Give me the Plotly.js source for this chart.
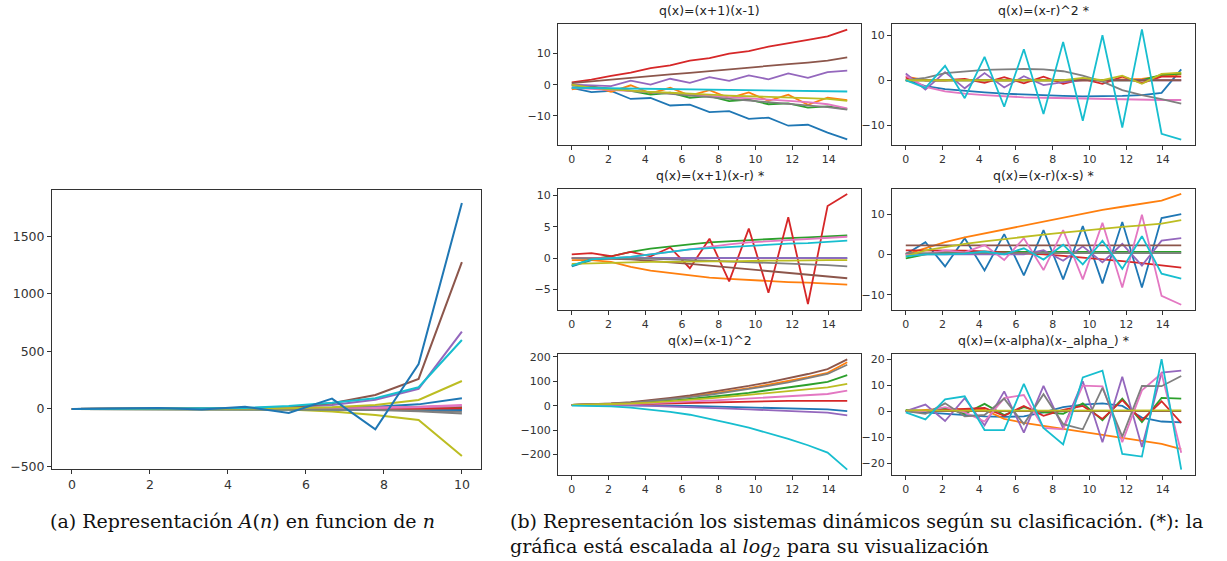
<!DOCTYPE html>
<html>
<head>
<meta charset="utf-8">
<script src="https://cdn.plot.ly/plotly-3.0.1.min.js"></script>
<style>html,body{margin:0;padding:0;background:#fff;}#chart{width:1227px;height:561px;}</style>
</head>
<body>
<div id="chart"></div>
<script>
// ---------- DATA ----------
const palette = ['#1f77b4','#ff7f0e','#2ca02c','#d62728','#9467bd','#8c564b','#e377c2','#7f7f7f','#bcbd22','#17becf'];

// (a) A(n)
const nX = [0,1.11,2.22,3.33,4.44,5.56,6.67,7.78,8.89,10];
const aSeries = [
  [0,0,1,1,3,5,10,20,40,93],
  [0,0,0,1,1,2,3,5,8,15],
  [0,0,0,0,1,1,2,4,6,10],
  [0,0,1,1,2,3,5,8,12,20],
  [0,0,0,0,0,0,-1,-2,-3,-5],
  [0,0,1,1,2,3,5,8,14,25],
  [0,0,1,1,2,4,7,12,20,35],
  [0,0,0,0,-1,-2,-3,-6,-12,-25],
  [0,0,0,0,0,-5,-23,-52,-96,-409],
  [0,0,0,1,1,2,3,5,8,12],
  [0,0,0,0,0,0,-1,-2,-4,-8],
  [0,0,0,0,1,1,2,3,5,8],
  [0,0,0,1,1,2,4,6,10,18],
  [0,0,0,0,0,1,1,2,4,6],
  [0,1,2,3,6,14,35,80,175,672],
  [0,1,2,3,6,14,50,122,261,1276],
  [0,0,0,1,2,3,5,9,15,28],
  [0,0,0,0,-1,-3,-5,-10,-20,-40],
  [0,0,1,1,3,6,15,35,78,243],
  [0,1,2,3,8,26,55,93,189,600],
  [0,5,8,-5,20,-35,90,-177,391,1790]
];

// (b) dynamical systems
const tX = [0,1.07,2.14,3.21,4.29,5.36,6.43,7.5,8.57,9.64,10.71,11.79,12.86,13.93,15];
const titles = ['q(x)=(x+1)(x-1)','q(x)=(x-r)^2 *','q(x)=(x+1)(x-r) *','q(x)=(x-r)(x-s) *','q(x)=(x-1)^2','q(x)=(x-alpha)(x-_alpha_) *'];

const s1 = [
  [-1,-2.4,-2,-4.6,-4.3,-6.7,-6.4,-8.8,-8.5,-11,-10.6,-13.2,-12.9,-15.4,-17.6],
  [-1.5,-0.5,-2.3,-0.2,-2.8,-1,-3.5,-1.8,-4.3,-2.5,-5.2,-3.2,-6.5,-4.2,-5],
  [0,-0.7,-1.3,-2,-3.2,-2.6,-4.2,-3.7,-5.3,-4.8,-6.3,-6,-7.4,-7,-7.9],
  [0.7,1.6,2.8,3.9,5.3,6.2,7.7,8.5,10,10.8,12.2,13.2,14.4,15.5,17.7],
  [0,-0.3,-0.5,1.3,0,1.9,0.6,2.4,1.2,3,1.7,3.6,2.2,4,4.5],
  [0.5,1.1,1.6,2.2,2.7,3.3,3.8,4.4,4.9,5.5,6,6.6,7.1,7.7,8.8],
  [-1,-1.3,-1.7,-2,-2.4,-2.8,-3.2,-3.6,-4,-4.4,-4.8,-5.2,-5.6,-6.3,-7.6],
  [-0.3,-0.8,-1.4,-2,-2.5,-3,-3.5,-4,-4.6,-5.1,-5.6,-6.1,-6.6,-7.2,-8],
  [0,-1,-1.5,-2,-2.3,-2.6,-3,-3.2,-3.5,-3.7,-4,-4.2,-4.5,-4.6,-5.2],
  [-1,-1.1,-1.2,-1.3,-1.4,-1.5,-1.6,-1.7,-1.8,-1.9,-2,-2,-2.1,-2.2,-2.2]
];
const s2 = [
  [0,-1.3,-2,-2.4,-2.7,-3,-3.2,-3.4,-3.5,-3.6,-3.6,-3.5,-3.3,-2.8,2.4],
  [0.8,0,0,0.1,0,0,0,0,0,0,0,0.2,0.3,0.9,1.3],
  [0,0,0,0,0,0,0,0,0,0.2,0,0,0,1.2,1.5],
  [0.5,0,0,0.3,-0.6,0.7,-0.7,0.8,-0.8,0.3,-0.8,0.8,-0.6,0.8,0.8],
  [1.5,-2.1,1.8,-1.8,1.6,-1.6,0.9,-1.1,-0.4,0,0,0,0,0,0],
  [0,0,0,0,0,0,0,0,0,0,0,0,0,0,0],
  [1,-1.5,-2.5,-3,-3.3,-3.6,-3.8,-3.9,-4,-4.1,-4.2,-4.3,-4.3,-4.4,-4.4],
  [0,0.5,1.6,2,2.3,2.4,2.5,2.4,2,1,-0.3,-2.2,-3.3,-4.2,-5.2],
  [0,0,0,0,0,0,0,0,0,0.5,0,1,-0.8,1.4,1.7],
  [0,-1.7,3.2,-4,5.2,-5.9,6.9,-7.5,8.5,-9,10,-10.5,11.3,-11.9,-13.2]
];
const s3 = [
  [-1.3,-0.3,0,0,0,0,0,0,0,0,0,0,0,0,0],
  [-0.3,-0.3,-0.6,-1.4,-2,-2.4,-2.8,-3.1,-3.3,-3.5,-3.7,-3.8,-3.9,-4.1,-4.2],
  [-1.2,-0.2,0.3,1,1.5,1.9,2.2,2.5,2.7,2.9,3,3.2,3.3,3.4,3.6],
  [0.6,0.8,0.3,1,0.3,1.7,-1.6,3.1,-3.7,4.7,-5.5,6.5,-7.3,8.3,10.2],
  [0,0,0,0,0,0,0,0,0,0,0,0,0,0,0],
  [0,0,-0.1,-0.2,-0.4,-0.6,-0.9,-1.2,-1.5,-1.8,-2.1,-2.4,-2.7,-2.9,-3.2],
  [0,0,0,0.2,0.6,1.1,1.5,1.9,2.2,2.5,2.7,2.9,3.1,3.2,3.4],
  [0,0,0,0,-0.1,-0.2,-0.3,-0.4,-0.5,-0.6,-0.8,-0.9,-1,-1.1,-1.3],
  [-0.9,-0.8,-0.7,-0.7,-0.6,-0.6,-0.5,-0.5,-0.5,-0.4,-0.4,-0.4,-0.3,-0.3,-0.3],
  [-1.2,-0.2,0,0.2,0.6,1,1.4,1.6,1.8,2,2.1,2.3,2.4,2.6,2.8]
];
const s4 = [
  [0,3,-3,4,-4,5,-5.2,6,-6.2,7,-7.2,8,-8.2,9,10],
  [0,1.5,3,4.2,5.2,6.2,7.2,8.2,9.1,10,11,11.8,12.6,13.3,15],
  [-1,0,0.5,0.6,0.6,0.6,0.6,0.6,0.6,0.6,0.6,0.6,0.6,0.6,0.6],
  [1,1,1,0.9,0.7,0.5,0.2,0,-0.4,-0.8,-1.2,-1.7,-2.2,-2.7,-3.3],
  [0,0,0,0,0,0,0,1,-1.6,2,-2,2.6,-2.8,3.4,4],
  [2.2,2.2,2.2,2.2,2.2,2.2,2.2,2.2,2.2,2.2,2.2,2.2,2.2,2.2,2.2],
  [0,0,1,0.5,2.3,-1.4,4,-3.9,6,-6.2,7.8,-8.2,9.8,-10.3,-12.5],
  [0.3,0.3,0.3,0.3,0.3,0.3,0.3,0.3,0.3,0.3,0.3,0.3,0.3,0.3,0.3],
  [-0.5,1,1.8,2.6,3.2,3.8,4.3,4.9,5.4,5.9,6.3,6.8,7.2,7.6,8.5],
  [-0.5,0,0,0.2,0.7,0,1.5,-1.3,2.4,-2.5,3.4,-3.6,4.5,-4.8,-6]
];
const s5 = [
  [3,3,3,2,1,0,-1,-3,-5,-7,-9,-11,-13,-15,-22],
  [3,5,8,13,20,28,37,48,59,72,86,101,117,135,178],
  [3,4,7,10,15,21,28,35,44,53,63,74,86,98,125],
  [3,3,4,6,8,10,12,14,16,18,19,20,20,20,20],
  [3,3,2,1,-1,-3,-6,-9,-12,-15,-18,-21,-25,-28,-40],
  [3,5,9,15,23,32,42,54,67,81,96,112,130,150,190],
  [3,3,5,7,10,13,17,21,25,30,34,38,43,48,62],
  [3,4,8,12,19,26,35,45,56,68,81,96,112,130,168],
  [3,4,6,9,13,18,24,30,37,44,52,60,68,75,90],
  [0,-0.5,-3,-8,-15,-25,-37,-53,-71,-90,-112,-136,-162,-192,-262]
];
const s6 = [
  [0,-0.5,-1,-1.5,-2,-2.2,-2,-0.5,1.5,2.5,3,2,-2.5,-4,-4.3],
  [0,0.5,1,0.7,0.5,-3,-4.5,-5.7,-6.8,-7.8,-9,-10.3,-11.5,-12.6,-14.6],
  [0.5,0,1.2,-1,2.8,-1.5,1.5,-0.5,-1,3,-3.5,4.8,-4.2,5.1,4.8],
  [0,0,0.5,0.8,1.2,-1.8,2,-1.8,0.5,2,-3,4.2,-3.5,3.8,-4.5],
  [0,2.5,-3.8,5,-5.5,7.6,-8.3,9.7,-6.5,11.5,-12,13.2,-13.8,14.8,15.6],
  [0,0,0,0,0,0,0,0,0,0,0,0,0,0,0],
  [0,0,1.5,-0.5,-4,5,6.2,-6.5,-7,9.8,9.5,-12,8,14.5,-16],
  [0,-1,3,-2,-1.5,4.8,-5,6.5,-5,-7,9,-9.8,9.7,9.6,13.5],
  [0.3,0.2,0.2,0.2,0.2,0.2,0.2,0.2,0.2,0.2,0.2,0.2,0.2,0.2,0.3],
  [-0.5,-3.2,4.5,5.7,-7.3,-7.3,10.5,-6.5,-12.8,13,15.6,-16.5,-17.5,20,-22.5]
];
const subSeries = [s1,s2,s3,s4,s5,s6];

// ---------- LAYOUT ----------
const W = 1227, H = 561;
const fx = p => p / W, fy = p => 1 - p / H;
const axisBase = {
  showline: true, mirror: true, linecolor: '#333', linewidth: 1,
  ticks: 'outside', ticklen: 4, tickcolor: '#333', showgrid: false, zeroline: false,
  tickfont: {family: 'DejaVu Sans', size: 11, color: '#333'}, fixedrange: true
};

const traces = [];
aSeries.forEach((ys, i) => {
  traces.push({x: nX, y: ys, type: 'scatter', mode: 'lines', xaxis: 'x', yaxis: 'y',
    line: {color: palette[i % 10], width: 2}, showlegend: false, hoverinfo: 'skip'});
});
subSeries.forEach((set, k) => {
  set.forEach((ys, i) => {
    traces.push({x: tX, y: ys, type: 'scatter', mode: 'lines', xaxis: 'x' + (k + 2), yaxis: 'y' + (k + 2),
      line: {color: palette[i % 10], width: 1.8}, showlegend: false, hoverinfo: 'skip'});
  });
});

// pixel boxes: [left, right, top, bottom]
const colL = [558, 861], colR = [892, 1195];
const rows = [[24, 145], [189, 310], [354, 475]];
const boxes = [
  [colL, rows[0]], [colR, rows[0]],
  [colL, rows[1]], [colR, rows[1]],
  [colL, rows[2]], [colR, rows[2]]
];
const yRanges = [[-19.4, 19.5], [-14.4, 12.5], [-8.25, 11.0], [-13.8, 16.2], [-284, 212], [-24.6, 22.0]];
const yTicks = [[-10, 0, 10], [-10, 0, 10], [-5, 0, 5, 10], [-10, 0, 10], [-200, -100, 0, 100, 200], [-20, -10, 0, 10, 20]];

const layout = {
  width: W, height: H, margin: {l: 0, r: 0, t: 0, b: 0},
  paper_bgcolor: '#fff', plot_bgcolor: '#fff', showlegend: false,
  xaxis: Object.assign({}, axisBase, {domain: [fx(52), fx(481)], range: [-0.51, 10.49], tickvals: [0, 2, 4, 6, 8, 10], anchor: 'y',
    tickfont: {family: 'DejaVu Sans', size: 12.5, color: '#333'}}),
  yaxis: Object.assign({}, axisBase, {domain: [fy(469), fy(190)], range: [-522, 1904], tickvals: [-500, 0, 500, 1000, 1500], anchor: 'x',
    tickfont: {family: 'DejaVu Sans', size: 12.5, color: '#333'}}),
  annotations: []
};
boxes.forEach((b, k) => {
  const n = k + 2;
  layout['xaxis' + n] = Object.assign({}, axisBase, {domain: [fx(b[0][0]), fx(b[0][1])], range: [-0.75, 15.75],
    tickvals: [0, 2, 4, 6, 8, 10, 12, 14], anchor: 'y' + n});
  layout['yaxis' + n] = Object.assign({}, axisBase, {domain: [fy(b[1][1]), fy(b[1][0])], range: yRanges[k],
    tickvals: yTicks[k], anchor: 'x' + n});
  layout.annotations.push({text: titles[k], xref: 'paper', yref: 'paper',
    x: fx((b[0][0] + b[0][1]) / 2), y: fy(b[1][0] - 4), xanchor: 'center', yanchor: 'bottom', showarrow: false,
    font: {family: 'DejaVu Sans', size: 12.5, color: '#222'}});
});

const capFont = {family: 'DejaVu Serif', size: 19, color: '#111'};
layout.annotations.push({text: '(a) Representación <i>A</i>(<i>n</i>) en funcion de <i>n</i>', xref: 'paper', yref: 'paper',
  x: fx(48), y: fy(521), xanchor: 'left', yanchor: 'middle', showarrow: false, font: capFont});
layout.annotations.push({text: '(b) Representación los sistemas dinámicos según su clasificación. (*): la', xref: 'paper', yref: 'paper',
  x: fx(508), y: fy(521), xanchor: 'left', yanchor: 'middle', showarrow: false, font: capFont});
layout.annotations.push({text: 'gráfica está escalada al <i>log</i><sub>2</sub> para su visualización', xref: 'paper', yref: 'paper',
  x: fx(508), y: fy(547), xanchor: 'left', yanchor: 'middle', showarrow: false, font: capFont});

Plotly.newPlot('chart', traces, layout, {staticPlot: true, displayModeBar: false});
</script>
</body>
</html>
